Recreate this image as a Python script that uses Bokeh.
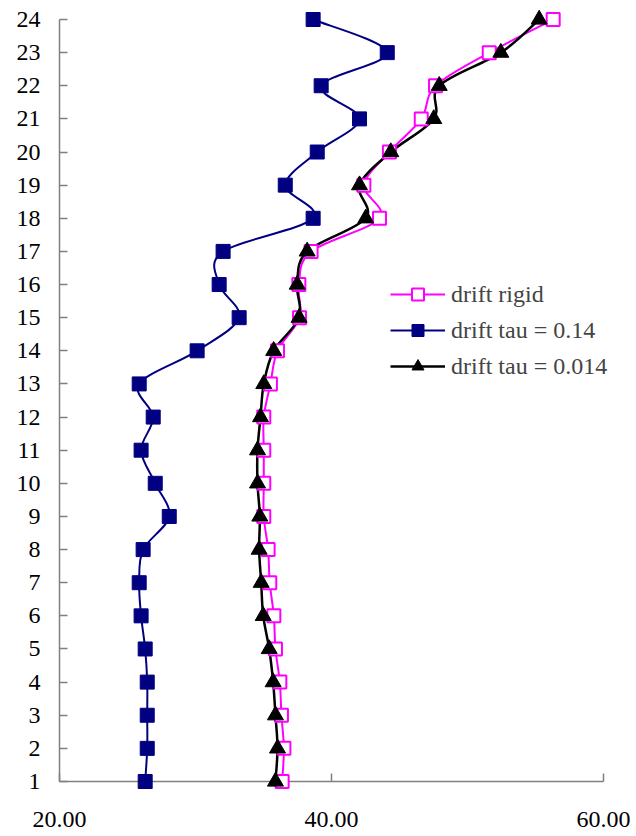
import numpy as np
from bokeh.plotting import figure
from bokeh.models import FixedTicker, Legend, LegendItem, ColumnDataSource, PrintfTickFormatter
from bokeh.embed import file_html
from bokeh.resources import INLINE

floors = list(range(1, 25))
drift_rigid = [36.37, 36.50, 36.32, 36.20, 35.88, 35.76, 35.46, 35.34, 35.02, 35.02,
               35.02, 35.02, 35.51, 36.03, 37.65, 37.60, 38.50, 43.53, 42.38, 44.26,
               46.60, 47.65, 51.60, 56.30]
drift_tau_014 = [26.30, 26.45, 26.45, 26.45, 26.30, 26.00, 25.86, 26.15, 28.07, 27.04,
                 26.00, 26.89, 25.86, 30.12, 33.21, 31.74, 32.03, 38.65, 36.60, 38.95,
                 42.06, 39.24, 44.10, 38.65]
drift_tau_0014 = [35.88, 36.03, 35.88, 35.71, 35.42, 34.98, 34.83, 34.68, 34.73, 34.56,
                  34.56, 34.78, 35.02, 35.75, 37.62, 37.48, 38.21, 42.52, 42.06, 44.36,
                  47.52, 47.92, 52.45, 55.27]
x_ticks = [20, 40, 60]
labels = ["drift rigid", "drift tau = 0.14", "drift tau = 0.014"]

FONT = "Liberation Serif"

# frame geometry: x=20 at px 59, x=60 at px 603 ; y=1 at px 781, y=24 at px 19
X_END = 20 + (636 - 59) / (544 / 40)          # frame runs to the right edge
Y_TOP = 24 + 19 / (762 / 23)                  # frame runs to the top edge


def smooth_source(xs, ys, t=1.0 / 6.0):
    """Catmull-Rom style Bezier control points (like a spreadsheet 'smoothed line')."""
    x = np.asarray(xs, float)
    y = np.asarray(ys, float)
    n = len(x)
    xp = np.concatenate([[x[0]], x, [x[-1]]])
    yp = np.concatenate([[y[0]], y, [y[-1]]])
    return ColumnDataSource(dict(
        x0=x[:-1], y0=y[:-1], x1=x[1:], y1=y[1:],
        cx0=x[:-1] + (xp[2:n + 1] - xp[0:n - 1]) * t,
        cy0=y[:-1] + (yp[2:n + 1] - yp[0:n - 1]) * t,
        cx1=x[1:] - (xp[3:n + 2] - xp[1:n]) * t,
        cy1=y[1:] - (yp[3:n + 2] - yp[1:n]) * t,
    ))


p = figure(width=636, height=836, x_range=(20, X_END), y_range=(1, Y_TOP),
           output_backend="svg", toolbar_location=None,
           min_border_left=59, min_border_right=0, min_border_top=0, min_border_bottom=55)
p.grid.visible = False
p.outline_line_color = None
p.background_fill_color = "white"
p.border_fill_color = "white"

series = [
    (drift_rigid, "#FF00FF", 2.0, "square", 13, "white", 2.0),
    (drift_tau_014, "#000080", 2.0, "square", 14, "#000080", 1.0),
    (drift_tau_0014, "#000000", 2.5, "triangle", 16, "#000000", 1.0),
]

items = []
for (vals, color, lw, marker, size, fill, mlw), label in zip(series, labels):
    bz = p.bezier(x0="x0", y0="y0", x1="x1", y1="y1", cx0="cx0", cy0="cy0",
                  cx1="cx1", cy1="cy1", source=smooth_source(vals, floors),
                  line_color=color, line_width=lw)
    sc = p.scatter(x=vals, y=floors, marker=marker, size=size,
                   fill_color=fill, line_color=color, line_width=mlw, level="overlay")
    items.append(LegendItem(label=label, renderers=[bz, sc]))

legend = Legend(items=items, location=(331, 400), orientation="vertical",
                glyph_width=55, glyph_height=30, label_height=30, spacing=6,
                padding=0, margin=0, label_standoff=6,
                label_text_font=FONT, label_text_font_size="24px",
                border_line_color=None, background_fill_alpha=0)
p.add_layout(legend)

for ax in (p.xaxis[0], p.yaxis[0]):
    ax.axis_line_color = "#808080"
    ax.axis_line_width = 1.5
    ax.major_tick_line_color = "#808080"
    ax.major_tick_line_width = 1.5
    ax.major_tick_in = 8
    ax.major_tick_out = 0
    ax.minor_tick_line_color = None
    ax.major_label_text_font = FONT
    ax.major_label_text_font_size = "24px"
    ax.major_label_text_color = "black"

p.xaxis.ticker = FixedTicker(ticks=x_ticks)
p.xaxis.formatter = PrintfTickFormatter(format="%.2f")
p.xaxis.bounds = (20, 60)
p.xaxis.major_label_standoff = 30
p.yaxis.ticker = FixedTicker(ticks=floors)
p.yaxis.bounds = (1, 24)
p.yaxis.major_label_standoff = 19

open("out.html", "w").write(file_html(p, INLINE))
